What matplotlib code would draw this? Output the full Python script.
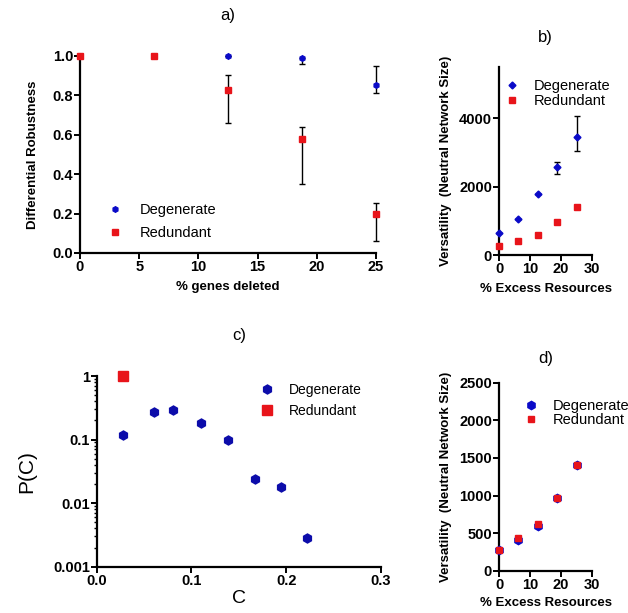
import matplotlib
matplotlib.use("Agg")
import matplotlib.pyplot as plt
from matplotlib.lines import Line2D
import numpy as np

plt.rcParams['font.family'] = ['Liberation Sans', 'DejaVu Sans']
plt.rcParams['font.weight'] = 'bold'

# ---- data ----
# panel a
a_x = [0, 6.25, 12.5, 18.75, 25]
a_deg = [1.0, 1.0, 1.0, 0.99, 0.85]
a_deg_lo = [0.0, 0.0, 0.0, 0.03, 0.04]
a_deg_hi = [0.0, 0.0, 0.0, 0.0, 0.10]
a_red = [1.0, 1.0, 0.826, 0.576, 0.20]
a_red_lo = [0.0, 0.0, 0.166, 0.226, 0.138]
a_red_hi = [0.0, 0.0, 0.074, 0.061, 0.052]
a_xticks = [0, 5, 10, 15, 20, 25]
a_yticks = [0.0, 0.2, 0.4, 0.6, 0.8, 1.0]

# panel b
b_x = [0, 6.25, 12.5, 18.75, 25]
b_deg = [644, 1072, 1786, 2577, 3455]
b_deg_lo = [0, 0, 0, 196, 410]
b_deg_hi = [0, 0, 0, 134, 603]
b_red = [281, 428, 586, 984, 1405]
b_xticks = [0, 10, 20, 30]
b_yticks = [0, 2000, 4000]

# panel c
c_deg_x = [0.028, 0.060, 0.080, 0.110, 0.139, 0.167, 0.195, 0.222]
c_deg_y = [0.117, 0.268, 0.29, 0.18, 0.10, 0.0237, 0.018, 0.0028]
c_red_x = [0.028]
c_red_y = [1.0]
c_xticks = [0.0, 0.1, 0.2, 0.3]
c_yticks = [0.001, 0.01, 0.1, 1]
c_yticklabels = ['0.001', '0.01', '0.1', '1']

# panel d
d_x = [0, 6.25, 12.5, 18.75, 25]
d_deg = [275, 408, 594, 971, 1401]
d_red = [275, 435, 617, 963, 1410]
d_xticks = [0, 10, 20, 30]
d_yticks = [0, 500, 1000, 1500, 2000, 2500]

BLUE = '#0a0ac8'
NAVY = '#0c0caa'
RED = '#e8141a'

W, H = 628, 613
fig = plt.figure(figsize=(W / 100, H / 100), dpi=100)


def box(l, r, t, b):
    return [l / W, (H - b) / H, (r - l) / W, (b - t) / H]


def style(ax):
    for s in ['top', 'right']:
        ax.spines[s].set_visible(False)
    for s in ['left', 'bottom']:
        ax.spines[s].set_linewidth(1.6)
    ax.tick_params(direction='out', length=4, width=1.4, labelsize=10.5, pad=1)


def mk(marker, color, ms):
    return Line2D([], [], linestyle='none', marker=marker, color=color, ms=ms)


# ---- panel a ----
ax = fig.add_axes(box(80, 376, 55.7, 253))
ax.errorbar(a_x, a_deg, yerr=[a_deg_lo, a_deg_hi], fmt='h', color=BLUE, ms=4,
            ecolor='black', elinewidth=1, capsize=2, clip_on=False, zorder=3)
ax.errorbar(a_x, a_red, yerr=[a_red_lo, a_red_hi], fmt='s', color=RED, ms=4.5,
            ecolor='black', elinewidth=1, capsize=2, clip_on=False, zorder=4)
ax.set_xlim(0, 25)
ax.set_ylim(0, 1.0)
ax.set_xticks(a_xticks)
ax.set_yticks(a_yticks)
ax.set_yticklabels([f'{v:.1f}' for v in a_yticks])
style(ax)
ax.set_xlabel('% genes deleted', fontsize=9.5, fontweight='bold', labelpad=5)
ax.set_ylabel('Differential Robustness', fontsize=9.5, fontweight='bold', labelpad=10)
ax.set_title('a)', fontsize=12, pad=26, fontweight='normal')
ax.legend([mk('h', BLUE, 4), mk('s', RED, 4.5)], ['Degenerate', 'Redundant'],
          loc='lower left', bbox_to_anchor=(0.05, 0.0), frameon=False,
          prop={'size': 10.5, 'weight': 'normal'},
          handletextpad=1.2, labelspacing=0.6, handlelength=1.0)

# ---- panel b ----
ax = fig.add_axes(box(499, 592, 66.7, 255.3))
ax.errorbar(b_x, b_deg, yerr=[b_deg_lo, b_deg_hi], fmt='D', color=BLUE, ms=3.5,
            ecolor='black', elinewidth=1, capsize=2, clip_on=False, zorder=3)
ax.plot(b_x, b_red, 's', color=RED, ms=5, clip_on=False, zorder=4)
ax.set_xlim(0, 30)
ax.set_ylim(0, 5500)
ax.set_xticks(b_xticks)
ax.set_yticks(b_yticks)
style(ax)
ax.set_xlabel('% Excess Resources', fontsize=9.5, fontweight='bold', labelpad=5)
ax.set_ylabel('Versatility  (Neutral Network Size)', fontsize=9.5, fontweight='bold', labelpad=5)
ax.set_title('b)', fontsize=12, pad=18, fontweight='normal')
ax.legend([mk('D', BLUE, 3.5), mk('s', RED, 5)], ['Degenerate', 'Redundant'],
          loc='upper left', bbox_to_anchor=(0.0, 0.965), frameon=False,
          prop={'size': 10.5, 'weight': 'normal'},
          handletextpad=1.0, labelspacing=0.05, handlelength=1.0, borderaxespad=0)

# ---- panel c ----
ax = fig.add_axes(box(96.7, 381, 376, 566.7))
ax.plot(c_deg_x, c_deg_y, 'h', color=NAVY, ms=6.5, clip_on=False, zorder=3)
ax.plot(c_red_x, c_red_y, 's', color=RED, ms=6.5, clip_on=False, zorder=4)
ax.set_yscale('log')
ax.set_xlim(0, 0.3)
ax.set_ylim(0.001, 1)
ax.set_xticks(c_xticks)
ax.set_xticklabels([f'{v:.1f}' for v in c_xticks])
ax.set_yticks(c_yticks)
ax.set_yticklabels(c_yticklabels)
style(ax)
ax.tick_params(which='minor', direction='out', length=2.5, width=1.0)
ax.tick_params(axis='x', which='minor', length=0)
ax.set_xlabel('C', fontsize=14, labelpad=2, fontweight='normal')
ax.set_ylabel('P(C)', fontsize=15, labelpad=12, fontweight='normal')
ax.set_title('c)', fontsize=12, pad=26, fontweight='normal')
ax.legend([mk('h', NAVY, 6.5), mk('s', RED, 6.5)], ['Degenerate', 'Redundant'],
          loc='upper left', bbox_to_anchor=(0.555, 0.995), frameon=False,
          prop={'size': 10, 'weight': 'normal'},
          handletextpad=1.1, labelspacing=0.55, handlelength=1.0, borderaxespad=0)

# ---- panel d ----
ax = fig.add_axes(box(499, 592, 382.7, 570.7))
ax.plot(d_x, d_deg, 'h', color=BLUE, ms=6, clip_on=False, zorder=3)
ax.plot(d_x, d_red, 's', color=RED, ms=5, clip_on=False, zorder=4)
ax.set_xlim(0, 30)
ax.set_ylim(0, 2500)
ax.set_xticks(d_xticks)
ax.set_yticks(d_yticks)
style(ax)
ax.set_xlabel('% Excess Resources', fontsize=9.5, fontweight='bold', labelpad=4)
ax.set_ylabel('Versatility  (Neutral Network Size)', fontsize=9.5, fontweight='bold', labelpad=5)
ax.set_title('d)', fontsize=12, pad=14, fontweight='normal')
ax.legend([mk('h', BLUE, 6), mk('s', RED, 5)], ['Degenerate', 'Redundant'],
          loc='upper left', bbox_to_anchor=(0.2, 0.945), frameon=False,
          prop={'size': 10.5, 'weight': 'normal'},
          handletextpad=1.0, labelspacing=0.0, handlelength=1.0, borderaxespad=0)

fig.savefig('out.png', dpi=100)
